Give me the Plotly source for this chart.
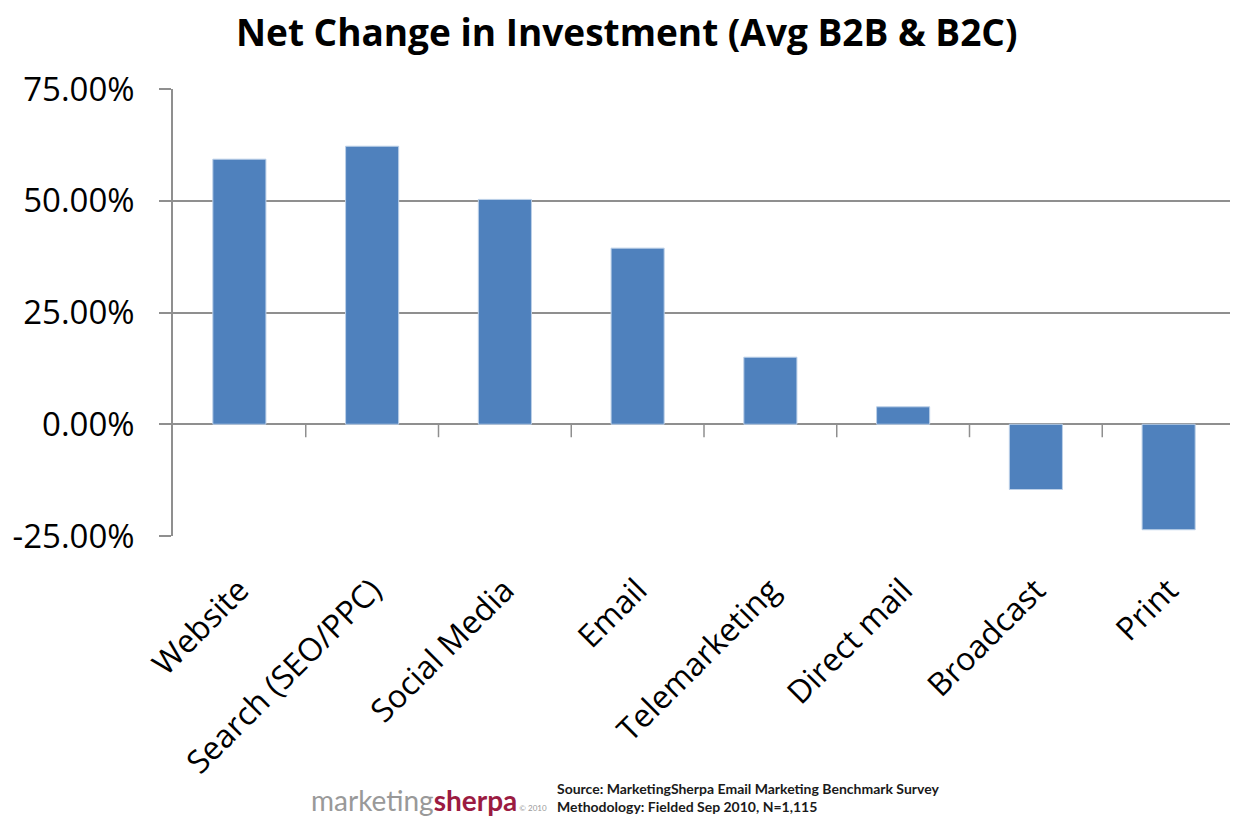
import plotly.graph_objects as go

# data
categories = ["Website", "Search (SEO/PPC)", "Social Media", "Email",
              "Telemarketing", "Direct mail", "Broadcast", "Print"]
net_change = [59.3, 62.2, 50.3, 39.4, 15.0, 3.9, -14.6, -23.6]
y_ticks = [-25, 0, 25, 50, 75]
y_tick_labels = ["-25.00%", "0.00%", "25.00%", "50.00%", "75.00%"]

bar_color = "#4f81bd"
grid_color = "#8f8f8f"
font_main = "Open Sans"

fig = go.Figure()
fig.add_trace(go.Bar(
    x=list(range(len(categories))), y=net_change,
    marker=dict(color=bar_color, line=dict(color="#bcd0e8", width=1)),
    width=0.4, hoverinfo="skip",
))

# small category tick marks hanging from the zero line
for i in range(len(categories)):
    fig.add_shape(type="line", xref="x", yref="y",
                  x0=i + 0.5, x1=i + 0.5, y0=0, y1=-2.9,
                  line=dict(color=grid_color, width=1.5))

# page body has an 8px margin, so the figure is a bit smaller than the window
fig.update_layout(
    width=1230, height=810,
    margin=dict(l=165, r=3, t=81, b=282, autoexpand=False),
    plot_bgcolor="white", paper_bgcolor="white",
    showlegend=False,
    bargap=0.6,
    title=dict(text="<b>Net Change in Investment (Avg B2B & B2C)</b>",
               x=0.503, xanchor="center", y=0.9685, yanchor="middle",
               font=dict(family=font_main, size=37, color="#000000")),
)

fig.update_xaxes(
    range=[-0.5, 7.5], automargin=False,
    tickmode="array", tickvals=list(range(len(categories))), ticktext=categories,
    tickangle=-45, showgrid=False, zeroline=False, showline=False, ticks="",
    tickfont=dict(family=font_main, size=32, color="#000000"),
    ticklabelstandoff=28,
)
fig.update_yaxes(
    range=[-25, 75], automargin=False,
    tickmode="array", tickvals=y_ticks, ticktext=y_tick_labels,
    showgrid=True, gridcolor=grid_color, gridwidth=1.5,
    zeroline=True, zerolinecolor=grid_color, zerolinewidth=1.5,
    showline=True, linecolor=grid_color, linewidth=1.5,
    ticks="outside", ticklen=12, tickcolor=grid_color, tickwidth=1.5,
    tickfont=dict(family=font_main, size=33, color="#000000"),
    ticklabelstandoff=18,
)

# footer: logo text and source note
fig.add_annotation(
    xref="paper", yref="paper", x=0.128, y=-0.59, xanchor="left", yanchor="middle",
    text="<span style='color:#999999'>marketing</span><b><span style='color:#9b1b42'>sherpa</span></b>"
         "<span style='color:#999999;font-size:8px'> © 2010</span>",
    showarrow=False, font=dict(family="Lato", size=28),
)
fig.add_annotation(
    xref="paper", yref="paper", x=0.36, y=-0.586, xanchor="left", yanchor="middle",
    text="<b>Source: MarketingSherpa Email Marketing Benchmark Survey<br>"
         "Methodology: Fielded Sep 2010, N=1,115</b>",
    align="left", showarrow=False,
    font=dict(family="Lato", size=14, color="#1a1a1a"),
)

fig.write_html("out.html")
